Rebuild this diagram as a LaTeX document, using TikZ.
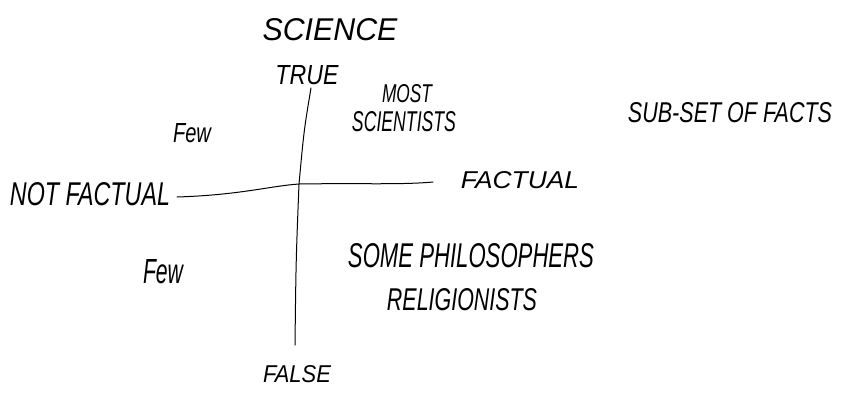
\documentclass[tikz,border=0pt]{standalone}
\usepackage{fontspec}
\setmainfont{Liberation Sans}
\usepackage{graphicx}
\newcommand{\hwtext}[3]{\resizebox{#1pt}{#2pt}{#3}}
\begin{document}
\begin{tikzpicture}[x=1pt,y=-1pt,
  lbl/.style={inner sep=0pt, outer sep=0pt, font=\itshape},
  axisline/.style={line width=1pt, line cap=round, line join=round}]
\useasboundingbox[fill=white] (0,0) rectangle (841,394);
% labels
\node[lbl] (science) at (330,30) {\hwtext{135}{22}{SCIENCE}};
\node[lbl] (true) at (307,75) {\hwtext{63}{19}{TRUE}};
\node[lbl] (most) at (407,94) {\hwtext{50}{18}{MOST}};
\node[lbl] (scientists) at (404,122) {\hwtext{104}{20}{SCIENTISTS}};
\node[lbl] (fewup) at (192,133) {\hwtext{38}{19}{Few}};
\node[lbl] (subset) at (730,113) {\hwtext{204}{20}{SUB-SET OF FACTS}};
\node[lbl] (notfactual) at (90,194) {\hwtext{160}{23}{NOT FACTUAL}};
\node[lbl] (factual) at (520,180) {\hwtext{118}{17}{FACTUAL}};
\node[lbl] (fewdown) at (163,272) {\hwtext{40}{24}{Few}};
\node[lbl] (some) at (471,256) {\hwtext{246}{24}{SOME PHILOSOPHERS}};
\node[lbl] (relig) at (462,300) {\hwtext{150}{22}{RELIGIONISTS}};
\node[lbl] (false) at (297,374) {\hwtext{68}{17}{FALSE}};
% axis points
\coordinate (vtop) at (311,88);
\coordinate (cross) at (299,184);
\coordinate (vbot) at (295,345);
\coordinate (hleft) at (177,197);
\coordinate (hright) at (433,182);
% axes
\draw[axisline] (vtop) .. controls (304,130) .. (cross) .. controls (296,260) .. (vbot);
\draw[axisline] (hleft) .. controls (240,195) and (270,186) .. (cross) .. controls (360,183) and (400,185) .. (hright);
\end{tikzpicture}
\end{document}
